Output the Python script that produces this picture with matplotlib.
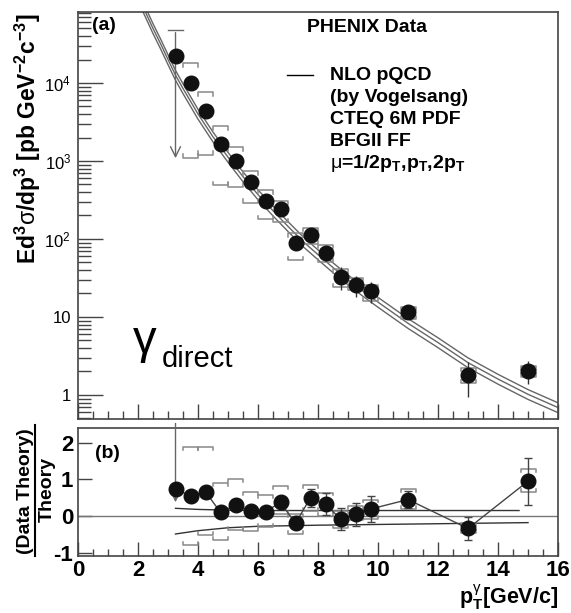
import numpy as np
import matplotlib
matplotlib.use('Agg')
import matplotlib.pyplot as plt
from matplotlib.ticker import FixedLocator, FixedFormatter, MultipleLocator, NullFormatter
from matplotlib.lines import Line2D

plt.rcParams['font.family'] = ['Liberation Sans', 'DejaVu Sans']
plt.rcParams['mathtext.fontset'] = 'custom'
plt.rcParams['mathtext.rm'] = 'Liberation Sans'
plt.rcParams['mathtext.bf'] = 'Liberation Sans:bold'
plt.rcParams['mathtext.it'] = 'Liberation Sans:italic'
plt.rcParams['mathtext.sf'] = 'Liberation Sans'

# data points (pT in GeV/c)
pt = [3.25, 3.75, 4.25, 4.75, 5.25, 5.75, 6.25, 6.75, 7.25, 7.75, 8.25, 8.75, 9.25, 9.75, 11, 13, 15]
xsec = [2.2e4, 1.0e4, 4.4e3, 1.65e3, 1.0e3, 530, 310, 245, 88, 112, 67, 33, 26, 21.5, 11.5, 1.8, 2.05]
xsec_stat = [np.nan, 0, 0, 0, 0, 0, 0, 18, 11, 19, 15, 11, 7.7, 6.4, 1.9, 0.85, 0.67]
xsec_sys_hi = [np.nan, 1.8e4, 7.6e3, 2.8e3, 1.5e3, 740, 420, 310, 119, 139, 84, 41, 31.5, 25.5, 13.6, 2.24, 2.35]
xsec_sys_lo = [np.nan, 1.1e3, 1.2e3, 490, 470, 290, 180, 165, 53, 86, 50, 24, 22, 16, 9.4, 1.42, 1.7]

# upper limit for the first point
ul_x = 3.25
ul_top = 4.8e4
ul_tip = 1.0e3

# (Data-Theory)/Theory
ratio = [0.73, 0.55, 0.66, 0.10, 0.30, 0.14, 0.12, 0.37, -0.20, 0.50, 0.32, -0.08, 0.05, 0.19, 0.45, -0.34, 0.95]
ratio_stat = [np.nan, 0, 0, 0, 0, 0, 0, 0.1, 0.1, 0.25, 0.3, 0.3, 0.31, 0.36, 0.24, 0.31, 0.64]
ratio_sys_hi = [np.nan, 1.89, 1.89, 0.89, 1.0, 0.66, 0.57, 0.82, 0.05, 0.85, 0.64, 0.15, 0.28, 0.45, 0.73, -0.2, 1.27]
ratio_sys_lo = [np.nan, -0.79, -0.52, -0.65, -0.38, -0.41, -0.29, 0.05, -0.49, 0.15, 0.01, -0.34, -0.11, -0.09, 0.18, -0.47, 0.66]
ratio_ul_top = 2.6
ratio_ul_tip = 0.3

# NLO pQCD, mu = pT
th_x = [2.0, 2.25, 2.5, 2.75, 3.0, 3.25, 3.5, 4, 4.5, 5, 5.5, 6, 6.5, 7, 7.5, 8, 8.5, 9, 9.5, 10, 11, 12, 13, 14, 15, 16]
th_y = [1.3e5, 8.1e4, 5.0e4, 3.2e4, 2.0e4, 1.26e4, 8.5e3, 4.0e3, 2.04e3, 1.12e3, 630, 370, 230, 145, 93, 63,
        43, 30, 21.4, 15.5, 8.3, 4.7, 2.6, 1.6, 1.02, 0.69]
# scale variations relative to mu = pT (top panel)
scale_x = [2.0, 16]
scale_up = [1.15, 1.15]
scale_dn = [0.86, 0.86]

# scale band in ratio panel
band_x = [3.25, 4, 5, 6, 8, 10, 14.7]
band_hi = [0.21, 0.18, 0.16, 0.15, 0.15, 0.15, 0.15]
band_lo_x = [3.25, 4, 5, 6, 8, 10, 15]
band_lo = [-0.49, -0.40, -0.32, -0.28, -0.25, -0.23, -0.18]

W, H = 571, 613
fig = plt.figure(figsize=(W / 100, H / 100), dpi=100)
ax1 = fig.add_axes([78 / W, 1 - 419 / H, 480 / W, 407 / H])
ax2 = fig.add_axes([78 / W, 1 - 556 / H, 480 / W, 128 / H])

spine_col = '#444444'
sys_col = '#888888'


def brackets(ax, x, lo, hi, tick, log=False, hw=0.25):
    for xi, l, h in zip(x, lo, hi):
        if np.isnan(h):
            continue
        if log:
            ht, lt = h / tick, l * tick
        else:
            ht, lt = h - tick, l + tick
        ax.plot([xi - hw, xi - hw, xi + hw, xi + hw], [ht, h, h, ht], color=sys_col, lw=1.1)
        ax.plot([xi - hw, xi - hw, xi + hw, xi + hw], [lt, l, l, lt], color=sys_col, lw=1.1)


# ---- panel (a)
th = np.array(th_y)
ax1.plot(th_x, th * np.interp(th_x, scale_x, scale_up), color='#666666', lw=1.0)
ax1.plot(th_x, th, color='#666666', lw=1.0)
ax1.plot(th_x, th * np.interp(th_x, scale_x, scale_dn), color='#666666', lw=1.0)

brackets(ax1, pt, xsec_sys_lo, xsec_sys_hi, 10 ** (3.5 / 78), log=True)
ax1.errorbar(pt, xsec, yerr=xsec_stat, fmt='none', ecolor='#333333', elinewidth=1.0, capsize=0)
ax1.plot([ul_x - 0.25, ul_x + 0.25], [ul_top, ul_top], color='#666666', lw=1.0)
ax1.annotate('', xy=(ul_x, ul_tip), xytext=(ul_x, ul_top),
             arrowprops=dict(arrowstyle='->', color='#666666', lw=1.0, mutation_scale=18))
ax1.plot(pt, xsec, 'o', color='#111111', ms=10.5, zorder=5)

ax1.set_yscale('log')
ax1.set_xlim(0, 16)
ax1.set_ylim(0.492, 8.13e4)
ax1.yaxis.set_major_locator(FixedLocator([1, 10, 100, 1e3, 1e4]))
ax1.yaxis.set_major_formatter(FixedFormatter(['1', '10', r'10$^{2}$', r'10$^{3}$', r'10$^{4}$']))
ax1.xaxis.set_major_locator(MultipleLocator(2))
ax1.xaxis.set_minor_locator(MultipleLocator(0.5))
ax1.xaxis.set_major_formatter(NullFormatter())
ax1.tick_params(axis='y', which='major', direction='in', length=18, width=1, labelsize=12, pad=5, colors=spine_col,
                labelcolor='black')
ax1.tick_params(axis='y', which='minor', direction='in', length=9, width=1, colors=spine_col)
ax1.tick_params(axis='x', which='major', direction='in', length=11, width=1, colors=spine_col)
ax1.tick_params(axis='x', which='minor', direction='in', length=6, width=1, colors=spine_col)
ax1.yaxis.set_minor_formatter(NullFormatter())

ax1.text(0.029, 0.966, '(a)', transform=ax1.transAxes, fontsize=14, fontweight='bold', va='center')
ax1.text(0.477, 0.961, 'PHENIX Data', transform=ax1.transAxes, fontsize=14, fontweight='bold', va='center')
ax1.add_line(Line2D([0.435, 0.49], [0.845, 0.845], transform=ax1.transAxes, color='black', lw=1.0))
legend_lines = ['NLO pQCD', '(by Vogelsang)', 'CTEQ 6M PDF', 'BFGII FF',
                r'$\mathrm{\mu}$=1/2p$_{\mathbf{T}}$,p$_{\mathbf{T}}$,2p$_{\mathbf{T}}$']
for i, s in enumerate(legend_lines):
    ax1.text(0.525, 0.845 - i * 0.0545, s, transform=ax1.transAxes, fontsize=14, fontweight='bold', va='center')
ax1.text(0.1146, 0.162, 'γ', transform=ax1.transAxes, fontsize=34, va='baseline')
ax1.text(0.175, 0.128, 'direct', transform=ax1.transAxes, fontsize=21, va='baseline')

# ---- panel (b)
ax2.axhline(0, color='#777777', lw=1.0)
ax2.plot(band_x, band_hi, color='#333333', lw=1.0)
ax2.plot(band_lo_x, band_lo, color='#333333', lw=1.0)
brackets(ax2, pt, ratio_sys_lo, ratio_sys_hi, 0.08)
ax2.errorbar(pt, ratio, yerr=ratio_stat, fmt='none', ecolor='#444444', elinewidth=1.0, capsize=3, capthick=1.0)
ax2.annotate('', xy=(ul_x, ratio_ul_tip), xytext=(ul_x, ratio_ul_top),
             arrowprops=dict(arrowstyle='->', color='#666666', lw=1.0, mutation_scale=16))
ax2.plot(pt, ratio, '-', color='#444444', lw=1.0)
ax2.plot(pt, ratio, 'o', color='#111111', ms=10.5, zorder=5)

ax2.set_xlim(0, 16)
ax2.set_ylim(-1.09, 2.4)
ax2.xaxis.set_major_locator(MultipleLocator(2))
ax2.xaxis.set_minor_locator(MultipleLocator(0.5))
ax2.yaxis.set_major_locator(FixedLocator([-1, 0, 1, 2]))
ax2.set_yticklabels(['-1', '0', '1', '2'])
ax2.tick_params(axis='both', which='major', direction='in', length=10, width=1, labelsize=16, colors=spine_col,
                labelcolor='black')
ax2.tick_params(axis='x', which='minor', direction='in', length=5, width=1, colors=spine_col)
ax2.tick_params(axis='x', which='major', pad=3)
for lab in ax2.get_xticklabels() + ax2.get_yticklabels():
    lab.set_fontweight('bold')
ax2.text(0.035, 0.80, '(b)', transform=ax2.transAxes, fontsize=14, fontweight='bold', va='center')

for ax in (ax1, ax2):
    for sp in ax.spines.values():
        sp.set_color(spine_col)
        sp.set_linewidth(1.2)

# axis titles
fig.text(28 / W, 1 - 139 / H,
         r'$\mathbf{Ed^{3}}\mathrm{\sigma}\mathbf{/dp^{3}\ [pb\ GeV^{-2}c^{-3}]}$',
         rotation=90, ha='center', va='center', fontsize=16.5)
fig.text(25 / W, 1 - 491 / H, '(Data Theory)', rotation=90, ha='center', va='center',
         fontsize=14, fontweight='bold')
fig.text(47 / W, 1 - 489 / H, 'Theory', rotation=90, ha='center', va='center',
         fontsize=14, fontweight='bold')
fig.add_artist(Line2D([35 / W, 35 / W], [1 - 425 / H, 1 - 556 / H], color='black', lw=1.5))
fig.text(558 / W, 1 - 612 / H, r'p$_{\mathbf{T}}^{\mathrm{\gamma}}$[GeV/c]', ha='right', va='bottom',
         fontsize=15.5, fontweight='bold')

fig.savefig('out.png', dpi=100)
